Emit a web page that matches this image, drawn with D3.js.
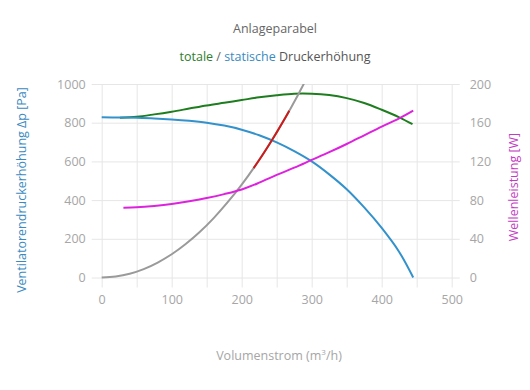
<!DOCTYPE html>
<html>
<head>
<meta charset="utf-8">
<script src="https://cdn.jsdelivr.net/npm/d3@7"></script>
<style>
  body { margin: 0; background: #fff; }
  text { font-family: "Open Sans", "Noto Sans", sans-serif; }
</style>
</head>
<body>
<script>
// volume flow (m3/h) and readings
const staticQ = [0, 25, 50, 75, 100, 125, 150, 175, 200, 225, 250, 275, 300, 325, 350, 375, 400, 425, 445];
const staticP = [828, 827, 825, 822, 817, 810, 800, 785, 764, 735, 698, 653, 600, 533, 456, 362, 256, 132, 0];

const totalQ = [26, 50, 75, 100, 125, 150, 175, 200, 225, 250, 275, 300, 325, 350, 375, 400, 425, 444];
const totalP = [826, 831, 843, 857, 873, 889, 903, 917, 931, 942, 950, 950, 943, 927, 902, 867, 828, 792];

const powerQ = [31, 50, 75, 100, 125, 150, 175, 200, 225, 250, 275, 300, 325, 350, 375, 400, 425, 445];
const powerW = [72.2, 72.6, 74, 76, 78.8, 82.2, 86.2, 91, 98, 106, 113.5, 121.5, 129.5, 138, 147, 156, 164.5, 172.5];

const systemQ = [0, 20, 40, 60, 80, 100, 120, 140, 160, 180, 200, 220, 240, 260, 280, 300];
const systemP = [0, 5, 19, 43, 77, 120, 173, 235, 307, 389, 480, 581, 691, 811, 941, 1080];

const opQ = [217, 225, 233, 240, 250, 260, 268];
const opP = [565, 607, 651, 691, 750, 811, 862];

const xTicks = [0, 50, 100, 150, 200, 250, 300, 350, 400, 450, 500];
const yLeftTicks = [0, 200, 400, 600, 800, 1000];
const yRightTicks = [0, 40, 80, 120, 160, 200];

const W = 530, H = 390;
const svg = d3.select("body").append("svg").attr("width", W).attr("height", H);

const x = d3.scaleLinear().domain([0, 500]).range([101.7, 451.7]);
const yL = d3.scaleLinear().domain([0, 1000]).range([277.5, 84]);
const yR = d3.scaleLinear().domain([0, 200]).range([277.5, 84]);

const gridColor = "#e6e6e6";
const tickColor = "#a6a6a6";

// vertical grid + bottom ticks
svg.append("g")
  .attr("transform", `translate(0,${yL(0) + 10})`)
  .call(d3.axisBottom(x).tickValues(xTicks).tickSize(-(yL(0) + 10 - yL(1000))).tickPadding(8)
    .tickFormat(d => d % 100 === 0 ? d : ""))
  .call(g => g.select(".domain").remove())
  .call(g => g.selectAll("line").attr("stroke", gridColor))
  .call(g => g.selectAll("text").attr("fill", tickColor).attr("font-size", 12.5));

// horizontal grid + left labels
svg.append("g")
  .attr("transform", `translate(${x(0) - 10},0)`)
  .call(d3.axisLeft(yL).tickValues(yLeftTicks).tickFormat(d3.format("d"))
    .tickSize(-(x(500) - x(0) + 18)).tickPadding(6))
  .call(g => g.select(".domain").remove())
  .call(g => g.selectAll("line").attr("stroke", gridColor))
  .call(g => g.selectAll("text").attr("fill", tickColor).attr("font-size", 12.5));

// right labels
svg.append("g")
  .attr("transform", `translate(${x(500) + 8},0)`)
  .call(d3.axisRight(yR).tickValues(yRightTicks).tickSize(0).tickPadding(10))
  .call(g => g.select(".domain").remove())
  .call(g => g.selectAll("text").attr("fill", tickColor).attr("font-size", 12.5));

svg.append("clipPath").attr("id", "plot")
  .append("rect").attr("x", 0).attr("y", yL(1000)).attr("width", W).attr("height", yL(0) - yL(1000) + 2);

const plot = svg.append("g").attr("clip-path", "url(#plot)");

function drawLine(qs, vs, ys, color) {
  const pts = qs.map((q, i) => [q, vs[i]]);
  plot.append("path")
    .datum(pts)
    .attr("fill", "none")
    .attr("stroke", color)
    .attr("stroke-width", 2)
    .attr("d", d3.line().x(d => x(d[0])).y(d => ys(d[1])).curve(d3.curveCatmullRom));
}

drawLine(totalQ, totalP, yL, "#1e7d1e");
drawLine(staticQ, staticP, yL, "#3392cc");
drawLine(systemQ, systemP, yL, "#9a9a9a");
drawLine(opQ, opP, yL, "#cc1b1b");
drawLine(powerQ, powerW, yR, "#dd22dd");

// titles
svg.append("text").attr("x", 275).attr("y", 33).attr("text-anchor", "middle")
  .attr("font-size", 12.5).attr("fill", "#666").text("Anlageparabel");

const sub = svg.append("text").attr("x", 275).attr("y", 61).attr("text-anchor", "middle")
  .attr("font-size", 12.5);
sub.append("tspan").attr("fill", "#2e7d2e").text("totale");
sub.append("tspan").attr("fill", "#666").text(" / ");
sub.append("tspan").attr("fill", "#3a8ac0").text("statische");
sub.append("tspan").attr("fill", "#555").text(" Druckerhöhung");

svg.append("text")
  .attr("transform", `translate(26,190) rotate(-90)`)
  .attr("text-anchor", "middle").attr("font-size", 12.5).attr("fill", "#3a8ac0")
  .text("Ventilatorendruckerhöhung Δp [Pa]");

svg.append("text")
  .attr("transform", `translate(518,187) rotate(-90)`)
  .attr("text-anchor", "middle").attr("font-size", 12.5).attr("fill", "#c23cc2")
  .text("Wellenleistung [W]");

const xl = svg.append("text").attr("x", 279).attr("y", 360).attr("text-anchor", "middle")
  .attr("font-size", 12.5).attr("fill", tickColor);
xl.append("tspan").text("Volumenstrom (m");
xl.append("tspan").attr("font-size", 8).attr("dy", -5).text("3");
xl.append("tspan").attr("dy", 5).text("/h)");
</script>
</body>
</html>
